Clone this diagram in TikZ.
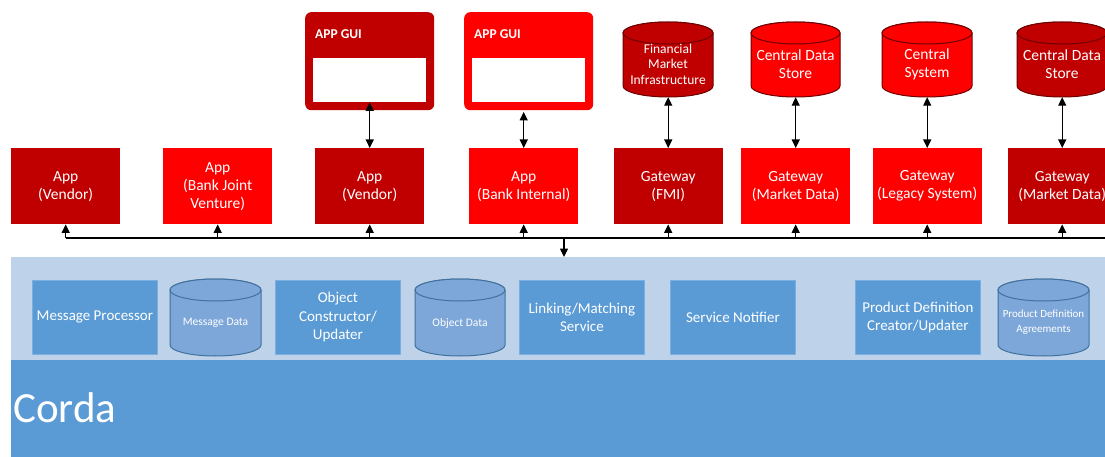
\documentclass[tikz,border=0pt]{standalone}
\usepackage{fontspec}
\setmainfont{Carlito}
\usetikzlibrary{arrows.meta}
\definecolor{dred}{HTML}{C00000}
\definecolor{bred}{HTML}{FF0000}
\definecolor{rcylbord}{HTML}{6E0000}
\definecolor{lband}{HTML}{BED2EA}
\definecolor{dblue}{HTML}{5B9BD5}
\definecolor{bbord}{HTML}{7DAEE0}
\definecolor{cylfill}{HTML}{7DA7D9}
\definecolor{cylbord}{HTML}{41719C}
\newcommand{\dbcyl}[6]{%
  \path[#6] (#2-#5,-#3-11) -- (#2-#5,-#4+11)
    arc[start angle=180,end angle=360,x radius=#5,y radius=11]
    -- (#2+#5,-#3-11)
    arc[start angle=0,end angle=180,x radius=#5,y radius=11] -- cycle;
  \path[#6] (#2,-#3-11) ellipse[x radius=#5,y radius=11];
  \node[inner sep=0pt, minimum width=2*#5, minimum height=#4-#3] (#1) at (#2,{-(#3+#4)/2}) {};
}
\tikzset{
  redbox/.style={minimum width=109pt, minimum height=76pt, inner sep=0pt, anchor=north west,
    text=white, align=center, font=\fontsize{15.5}{18}\selectfont},
  darkbox/.style={redbox, fill=dred},
  brightbox/.style={redbox, fill=bred},
  bluebox/.style={fill=dblue, draw=bbord, line width=0.8pt, minimum width=125pt, minimum height=74pt,
    inner sep=0pt, anchor=north west, text=white, align=center, font=\fontsize{15}{18.5}\selectfont},
  redcyl/.style={fill=dred, draw=rcylbord, line width=1pt},
  brightcyl/.style={fill=bred, draw=rcylbord, line width=1pt},
  bluecyl/.style={fill=cylfill, draw=cylbord, line width=1pt},
  cyltext/.style={text=white, align=center, inner sep=0pt},
  guibox/.style={rounded corners=6pt, minimum width=129pt, minimum height=98pt, inner sep=0pt, anchor=north west},
  guiinner/.style={fill=white, minimum width=113pt, minimum height=44pt, inner sep=0pt, anchor=north west},
  guilabel/.style={anchor=west, text=white, inner sep=0pt, font=\bfseries\fontsize{13.5}{15}\selectfont},
  tipped/.style={line width=1.2pt, -{Triangle[length=8.5pt,width=8pt]}},
  dbl/.style={line width=1.2pt, {Triangle[length=8.5pt,width=8pt]}-{Triangle[length=8.5pt,width=8pt]}},
  busline/.style={line width=1.2pt},
}
\begin{document}
\begin{tikzpicture}[x=1pt,y=1pt]
\useasboundingbox (0,0) rectangle (1105,-457);
\clip (0,0) rectangle (1105,-457);
\fill[white] (0,0) rectangle (1105,-457);

% GUI boxes
\node[guibox, fill=dred] (gui1) at (305,-12) {};
\node[guiinner] (gui1in) at (313,-58) {};
\node[guilabel] (gui1l) at (315,-34) {APP GUI};
\node[guibox, fill=bred] (gui2) at (464,-12) {};
\node[guiinner] (gui2in) at (472,-58) {};
\node[guilabel] (gui2l) at (474,-34) {APP GUI};

% top cylinders
\dbcyl{fmi}{668}{22}{97}{45}{redcyl}
\node[cyltext, font=\fontsize{13.5}{15.5}\selectfont] (fmit) at (668,-64) {Financial\\Market\\Infrastructure};
\dbcyl{cds1}{795.5}{22}{97}{44.5}{brightcyl}
\node[cyltext, font=\fontsize{15.5}{18}\selectfont] (cds1t) at (795.5,-64) {Central Data\\Store};
\dbcyl{csys}{927}{22}{97}{45}{brightcyl}
\node[cyltext, font=\fontsize{15.5}{18}\selectfont] (csyst) at (927,-64) {Central\\System};
\dbcyl{cds2}{1062}{22}{97}{45}{redcyl}
\node[cyltext, font=\fontsize{15.5}{18}\selectfont] (cds2t) at (1062,-64) {Central Data\\Store};

% app / gateway row
\node[darkbox] (app1) at (11,-148) {App\\(Vendor)};
\node[brightbox] (app2) at (163,-148) {App\\(Bank Joint\\Venture)};
\node[darkbox] (app3) at (315,-148) {App\\(Vendor)};
\node[brightbox] (app4) at (469,-148) {App\\(Bank Internal)};
\node[darkbox] (gw1) at (613.5,-148) {Gateway\\(FMI)};
\node[brightbox] (gw2) at (741,-148) {Gateway\\(Market Data)};
\node[brightbox] (gw3) at (872.5,-148) {Gateway\\(Legacy System)};
\node[darkbox] (gw4) at (1007.5,-148) {Gateway\\(Market Data)};

% vertical double arrows
\draw[dbl] (app3.north) -- (app3.north |- gui1in.south);
\draw[dbl, shorten >=1.5pt] (app4.north) -- (app4.north |- gui2.south);
\draw[dbl] (gw1.north) -- (gw1.north |- fmi.south);
\draw[dbl] (gw2.north) -- (gw2.north |- cds1.south);
\draw[dbl] (gw3.north) -- (gw3.north |- csys.south);
\draw[dbl] (gw4.north) -- (gw4.north |- cds2.south);

% bands
\node[fill=lband, minimum width=1094pt, minimum height=103pt, inner sep=0pt, anchor=north west] (band) at (11,-257) {};
\node[fill=dblue, minimum width=1094pt, minimum height=97pt, inner sep=0pt, anchor=north west] (corda) at (11,-360) {};
\node[anchor=west, text=white, inner sep=0pt, font=\fontsize{43}{50}\selectfont] (cordal) at (13,-408) {Corda};

% bus
\coordinate (bus) at (0,-238);
\coordinate (busR) at (1105,-238);
\coordinate (drop) at (564,-238);
\draw[busline] (app1.south |- bus) -- (busR);
\foreach \n in {app1,app2,app3,app4,gw1,gw2,gw3,gw4}{
  \draw[tipped] (\n.south |- bus) -- (\n.south);
}
\draw[tipped] (drop) -- (drop |- band.north);

% inner components
\node[bluebox] (mp) at (32,-280) {Message Processor};
\dbcyl{md}{215.5}{279}{356}{45.5}{bluecyl}
\node[cyltext, font=\fontsize{11.5}{13}\selectfont] (mdt) at (215.5,-323) {Message Data};
\node[bluebox] (oc) at (275,-280) {Object\\Constructor/\\Updater};
\dbcyl{odb}{460}{279}{356}{45}{bluecyl}
\node[cyltext, font=\fontsize{11.5}{13}\selectfont] (odbt) at (460,-323) {Object Data};
\node[bluebox] (lm) at (519,-280) {Linking/Matching\\Service};
\node[bluebox] (sn) at (670,-280) {Service Notifier};
\node[bluebox] (pd) at (855,-280) {Product Definition\\Creator/Updater};
\dbcyl{pda}{1043.5}{279}{356}{45.5}{bluecyl}
\node[cyltext, font=\fontsize{11}{14.5}\selectfont] (pdat) at (1043.5,-322) {Product Definition\\Agreements};
\end{tikzpicture}
\end{document}
